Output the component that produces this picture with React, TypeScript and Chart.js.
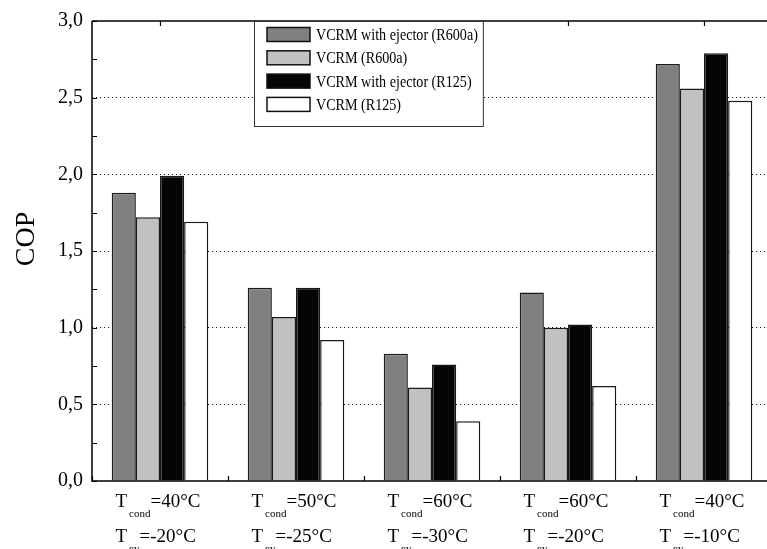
import React, { useEffect, useRef } from "react";
import { Chart, registerables } from "chart.js";

Chart.register(...registerables);

// ---- data ----
const categories = ["40/-20", "50/-25", "60/-30", "60/-20", "40/-10"];
const condTexts = ["=40°C", "=50°C", "=60°C", "=60°C", "=40°C"];
const evTexts = ["=-20°C", "=-25°C", "=-30°C", "=-20°C", "=-10°C"];
const seriesLabels = [
  "VCRM with ejector (R600a)",
  "VCRM (R600a)",
  "VCRM with ejector (R125)",
  "VCRM (R125)",
];
const ejectorR600a = [1.88, 1.26, 0.83, 1.23, 2.72];
const vcrmR600a = [1.72, 1.07, 0.61, 1.0, 2.56];
const ejectorR125 = [1.99, 1.26, 0.76, 1.02, 2.79];
const vcrmR125 = [1.69, 0.92, 0.39, 0.62, 2.48];
const seriesColors = ["#7f807f", "#c0c1c0", "#050505", "#ffffff"];
const yMin = 0;
const yMax = 3;
const yStep = 0.5;
const yMinorStep = 0.25;
const yTitle = "COP";

const SERIF = "'Liberation Serif', 'Times New Roman', serif";

const decorPlugin = {
  id: "decor",
  afterDatasetsDraw(chart: any) {
    const { ctx, chartArea: a, scales } = chart;
    const x = scales.x;
    const y = scales.y;
    ctx.save();
    ctx.strokeStyle = "#000";
    ctx.lineWidth = 1.5;
    ctx.beginPath();
    ctx.moveTo(a.left, a.top);
    ctx.lineTo(a.left, a.bottom);
    ctx.lineTo(a.right, a.bottom);
    ctx.moveTo(a.left, a.top);
    ctx.lineTo(a.right, a.top);
    ctx.lineTo(a.right, a.bottom);
    ctx.stroke();
    ctx.lineWidth = 1.2;
    ctx.beginPath();
    for (let v = yMin; v <= yMax + 1e-9; v += yMinorStep) {
      const py = Math.round(y.getPixelForValue(v)) + 0.5;
      ctx.moveTo(a.left, py);
      ctx.lineTo(a.left + 5, py);
    }
    for (let i = 0; i <= categories.length; i++) {
      const px = Math.round(x.getPixelForValue(i - 0.5)) + 0.5;
      ctx.moveTo(px, a.bottom);
      ctx.lineTo(px, a.bottom - 5);
    }
    for (let i = 0; i < categories.length; i++) {
      const px = Math.round(x.getPixelForValue(i)) + 0.5;
      ctx.moveTo(px, a.top);
      ctx.lineTo(px, a.top + 5);
    }
    ctx.stroke();

    // x labels with subscripts
    ctx.fillStyle = "#000";
    ctx.textBaseline = "alphabetic";
    ctx.textAlign = "left";
    const mainFont = `19px ${SERIF}`;
    const subFont = `11px ${SERIF}`;
    for (let i = 0; i < categories.length; i++) {
      const cx = x.getPixelForValue(i);
      ctx.font = mainFont;
      const tw = ctx.measureText("T").width;
      const cw = ctx.measureText(condTexts[i]).width;
      ctx.font = subFont;
      const sw = ctx.measureText("cond").width;
      const ew = ctx.measureText("ev").width;
      const total = tw + 2 + sw + cw;
      const x0 = cx - total / 2 - 2;
      const b1 = a.bottom + 26;
      const b2 = a.bottom + 61;
      ctx.font = mainFont;
      ctx.fillText("T", x0, b1);
      ctx.fillText(condTexts[i], x0 + tw + 2 + sw, b1);
      ctx.fillText("T", x0, b2);
      ctx.fillText(evTexts[i], x0 + tw + 2 + ew, b2);
      ctx.font = subFont;
      ctx.fillText("cond", x0 + tw + 2, b1 + 10);
      ctx.fillText("ev", x0 + tw + 2, b2 + 10);
    }

    // y title
    ctx.save();
    ctx.translate(27, (a.top + a.bottom) / 2 - 12);
    ctx.rotate(-Math.PI / 2);
    ctx.font = `28px ${SERIF}`;
    ctx.textAlign = "center";
    ctx.textBaseline = "middle";
    ctx.fillText(yTitle, 0, 0);
    ctx.restore();
    ctx.restore();
  },
  afterDraw(chart: any) {
    const { ctx, chartArea: a } = chart;
    const datasets = chart.data.datasets;
    ctx.save();
    const sx = 0.83;
    ctx.font = `17px ${SERIF}`;
    let maxW = 0;
    datasets.forEach((d: any) => {
      maxW = Math.max(maxW, ctx.measureText(d.label).width * sx);
    });
    const left = 254;
    const top = a.top;
    const swX = 267;
    const swW = 43;
    const swH = 14;
    const textX = 316;
    const right = textX + maxW + 5;
    const rowH = 23.3;
    const bottom = top + 105;
    ctx.fillStyle = "#fff";
    ctx.fillRect(left, top, right - left, bottom - top);
    ctx.strokeStyle = "#333";
    ctx.lineWidth = 1;
    ctx.strokeRect(left + 0.5, top + 0.5, right - left, bottom - top);
    datasets.forEach((d: any, i: number) => {
      const cy = top + 13.5 + i * rowH;
      ctx.fillStyle = d.backgroundColor;
      ctx.fillRect(swX, cy - swH / 2, swW, swH);
      ctx.strokeStyle = "#111";
      ctx.lineWidth = 1.5;
      ctx.strokeRect(swX, cy - swH / 2, swW, swH);
      ctx.fillStyle = "#000";
      ctx.textBaseline = "middle";
      ctx.textAlign = "left";
      ctx.save();
      ctx.translate(textX, cy + 1);
      ctx.scale(sx, 1);
      ctx.fillText(d.label, 0, 0);
      ctx.restore();
    });
    ctx.restore();
  },
};

export default function App() {
  const ref = useRef<HTMLCanvasElement | null>(null);
  useEffect(() => {
    if (!ref.current) return;
    const seriesData = [ejectorR600a, vcrmR600a, ejectorR125, vcrmR125];
    const chart = new Chart(ref.current, {
      type: "bar",
      data: {
        labels: categories,
        datasets: seriesData.map((vals, i) => ({
          label: seriesLabels[i],
          data: vals,
          backgroundColor: seriesColors[i],
          borderColor: "#1a1a1a",
          borderWidth: 1.5,
          barPercentage: 1,
          categoryPercentage: 0.71,
        })),
      },
      options: {
        animation: false,
        responsive: false,
        devicePixelRatio: 1,
        layout: { padding: { left: 0, top: 18, right: 8, bottom: 68 } },
        plugins: { legend: { display: false }, tooltip: { enabled: false } },
        scales: {
          x: { display: false },
          y: {
            min: yMin,
            max: yMax,
            afterFit: (s: any) => {
              s.width = 92;
            },
            ticks: {
              stepSize: yStep,
              color: "#000",
              padding: 9,
              font: { family: SERIF, size: 20 },
              callback: (v: any) => Number(v).toFixed(1).replace(".", ","),
            },
            grid: {
              drawTicks: false,
              lineWidth: 1,
              color: (c: any) =>
                c.tick && (c.tick.value === yMin || c.tick.value === yMax)
                  ? "rgba(0,0,0,0)"
                  : "#222",
            },
            border: { display: false, dash: [1.2, 2.8] },
          },
        },
      },
      plugins: [decorPlugin],
    });
    return () => chart.destroy();
  }, []);
  return (
    <div
      style={{
        position: "fixed",
        left: 0,
        top: 0,
        width: 767,
        height: 549,
        overflow: "hidden",
        background: "#fff",
      }}
    >
      <canvas
        ref={ref}
        width={780}
        height={549}
        style={{ display: "block", width: 780, height: 549 }}
      />
    </div>
  );
}
